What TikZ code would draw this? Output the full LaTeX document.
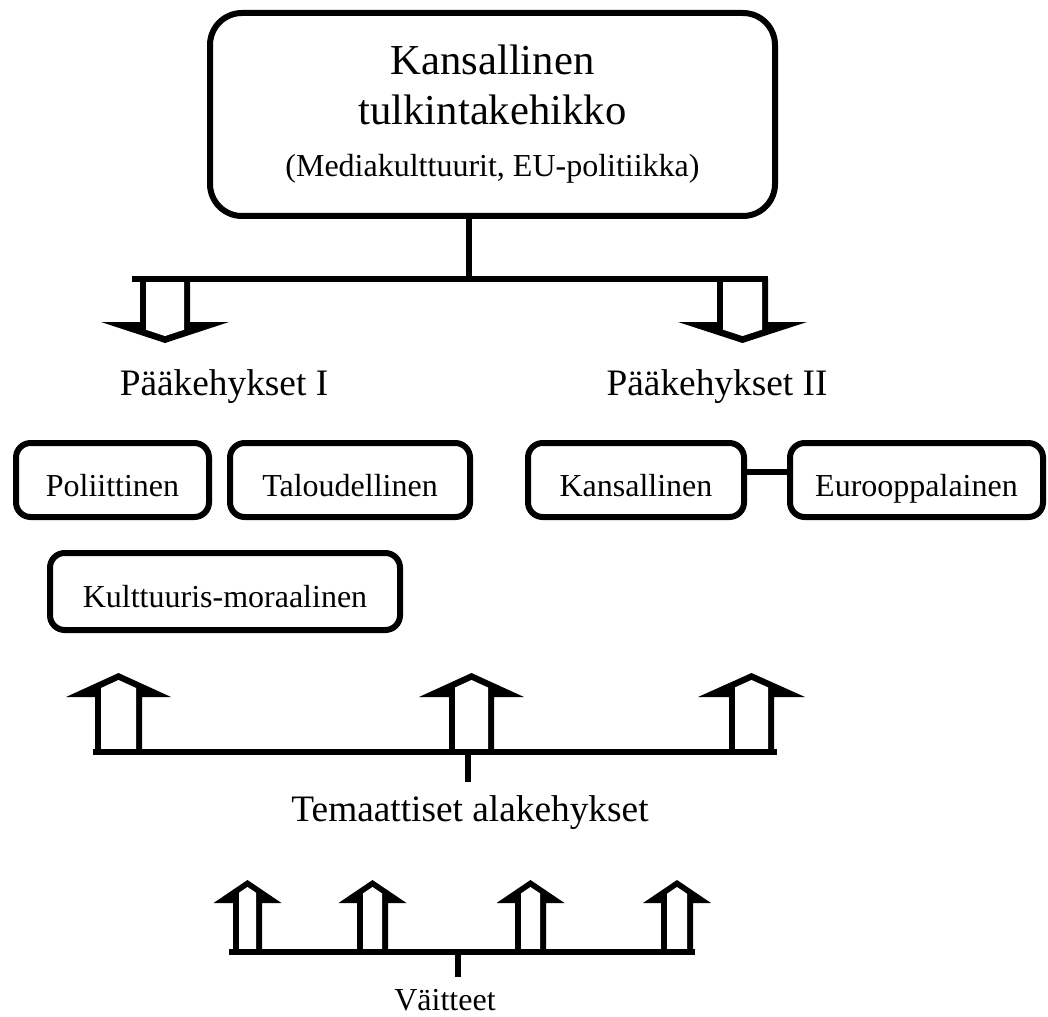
\documentclass[tikz,border=0pt]{standalone}
\usepackage{fontspec}
\setmainfont{Liberation Serif}
\usetikzlibrary{positioning,calc}
\tikzset{
  bigbox/.style    = {draw, line width=4.5pt, rounded corners=24pt, minimum width=423.75pt,
                      minimum height=152.25pt, align=center, inner sep=0pt,
                      font=\fontsize{32}{37.5}\selectfont},
  framebox/.style  = {draw, line width=4.5pt, rounded corners=11pt, minimum height=55.5pt,
                      inner sep=0pt, text height=24pt, text depth=0pt,
                      font=\fontsize{24}{29}\selectfont},
  heading/.style   = {anchor=base, inner sep=0pt, font=\fontsize{28}{34}\selectfont},
  smalltext/.style = {anchor=base, inner sep=0pt, font=\fontsize{24}{29}\selectfont},
  bar/.style       = {line width=4.75pt},
}
% #1 x, #2 foot y, #3 head y, #4 tip y, #5 half shaft, #6 half head
\newcommand{\hollowarrow}[6]{%
  \pgfmathsetmacro\dirsign{sign(#2-#4)}%
  \pgfmathsetmacro\innerhalf{#5-6}%
  \pgfmathsetmacro\innerwall{#4+(#3-#4)*\innerhalf/#6+7*\dirsign}%
  \pgfmathsetmacro\innertip{#4+7*\dirsign}%
  \fill ({#1-#5},#2) -- ({#1-#5},#3) -- ({#1-#6},#3) -- (#1,#4) -- ({#1+#6},#3)
    -- ({#1+#5},#3) -- ({#1+#5},#2) -- cycle;
  \fill[white] ({#1-\innerhalf},#2) -- ({#1-\innerhalf},\innerwall) -- (#1,\innertip)
    -- ({#1+\innerhalf},\innerwall) -- ({#1+\innerhalf},#2) -- cycle;}

\begin{document}
\begin{tikzpicture}[x=0.75pt,y=-0.75pt]
\useasboundingbox (0,0) rectangle (1048,1016);
% national frame
\node[bigbox] (frame) at (492.5,114.5) {Kansallinen\\tulkintakehikko\\[1.5pt]{\fontsize{24}{29}\selectfont (Mediakulttuurit, EU-politiikka)}};
\coordinate (split) at (469,279);
\coordinate (barL) at (132,279);
\coordinate (barR) at (768,279);
\draw[bar] (frame.south -| split) -- (split);
\hollowarrow{165}{279}{322}{343}{25}{64}
\hollowarrow{742.5}{279}{322}{343}{25.5}{64.5}
\draw[bar] (barL) -- (barR);
\node[heading] (mainI) at (224,395) {Pääkehykset I};
\node[heading] (mainII) at (717,395) {Pääkehykset II};
% main frames
\node[framebox, minimum width=144.75pt] (pol) at (112.5,480) {Poliittinen};
\node[framebox, minimum width=180pt] (tal) at (350,480) {Taloudellinen};
\node[framebox, minimum width=162pt] (kan) at (636,480) {Kansallinen};
\node[framebox, minimum width=189.75pt] (eur) at (916.5,480) {Eurooppalainen};
\node[framebox, minimum width=262.5pt, minimum height=57.75pt] (kul) at (225,591.5) {Kulttuuris-moraalinen};
\draw[bar] ([yshift=6pt]kan.east) -- ([yshift=6pt]eur.west);
% thematic subframes
\hollowarrow{118.5}{752}{697}{673}{23.5}{52.5}
\hollowarrow{471.5}{752}{697}{673}{22.5}{52.5}
\hollowarrow{751.5}{752}{697}{673}{22.5}{53.5}
\coordinate (themeL) at (93,752);
\coordinate (themeR) at (777,752);
\coordinate (themeS) at (468,782);
\draw[bar] (themeL) -- (themeR);
\draw[bar] (themeL -| themeS) -- (themeS);
\node[heading] (theme) at (470,821) {Temaattiset alakehykset};
% claims
\foreach \x/\s in {247.5/14.5, 372.5/15.5, 530.5/15.5, 677/16}
  {\hollowarrow{\x}{952}{903}{880}{\s}{34}}
\coordinate (claimL) at (229,952);
\coordinate (claimR) at (695,952);
\coordinate (claimS) at (458,977);
\draw[bar] (claimL) -- (claimR);
\draw[bar] (claimL -| claimS) -- (claimS);
\node[smalltext] (claims) at (445,1010) {Väitteet};
\end{tikzpicture}
\end{document}
